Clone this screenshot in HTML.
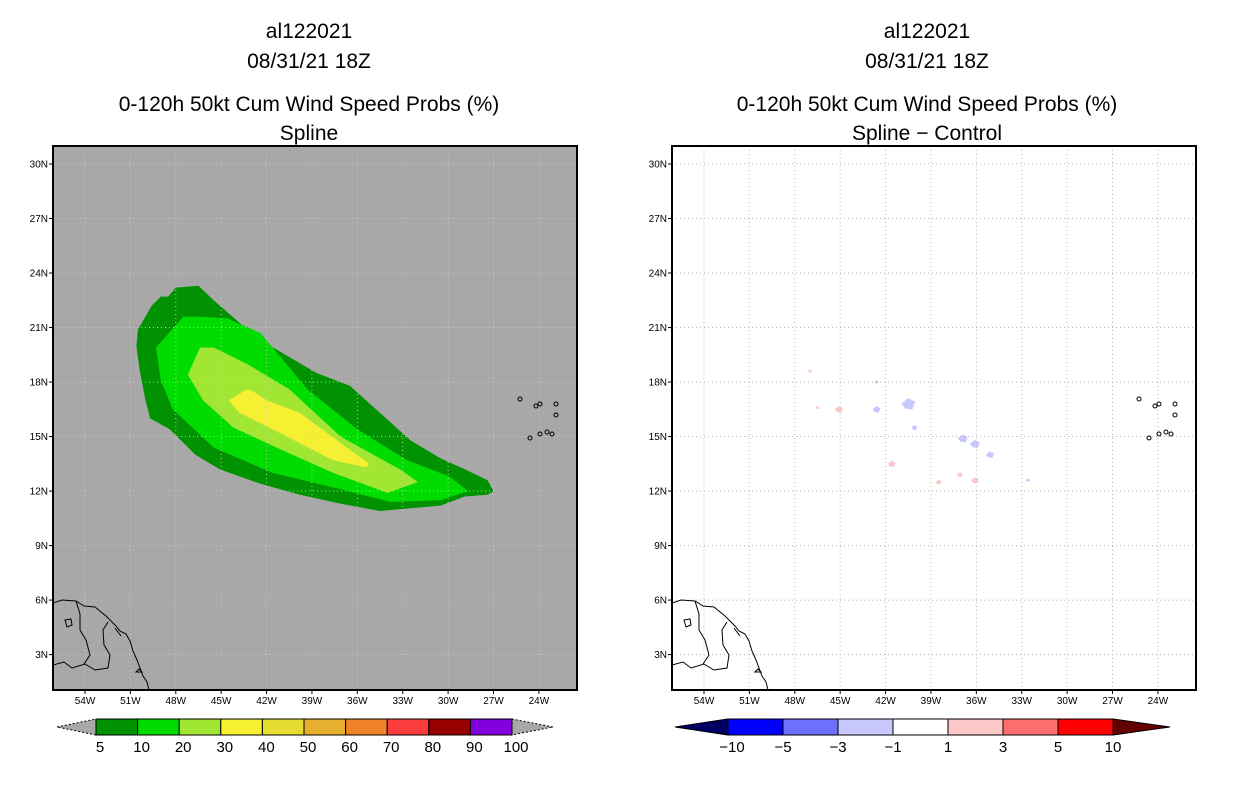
<!DOCTYPE html>
<html><head><meta charset="utf-8">
<style>
html,body{margin:0;padding:0;background:#fff;}
svg{display:block;font-family:"Liberation Sans",sans-serif;}
</style></head>
<body>
<svg id="c" width="1236" height="800" viewBox="0 0 1236 800"></svg>
<script>
// ---- data ----
const latTicks=[30,27,24,21,18,15,12,9,6,3];
const lonTicks=[-54,-51,-48,-45,-42,-39,-36,-33,-30,-27,-24];
const probLevels=['5','10','20','30','40','50','60','70','80','90','100'];
const probColors=['#009200','#00dc00','#a0e632','#f5f032','#e6dc32','#e6af2d','#f08228','#fa3c3c','#960000','#8200dc'];
const diffLevels=['-10','-5','-3','-1','1','3','5','10'];
const diffColors=['#0000ff','#6e6eff','#c8c8ff','#ffffff','#ffc8c8','#ff6e6e','#ff0000'];
const c5Lon=[-49.0,-48.5,-48.0,-46.5,-45.5,-42.6,-38.7,-36.5,-32.5,-30.5,-28.9,-27.4,-27.0,-27.4,-28.9,-30.5,-33.2,-34.5,-35.8,-37.1,-39.8,-42.4,-45.1,-46.7,-48.4,-49.7,-50.0,-50.4,-50.6,-50.5,-50.0,-49.6];
const c5Lat=[22.7,22.7,23.2,23.3,22.5,20.4,18.5,17.8,14.8,13.8,13.2,12.6,12.0,11.8,11.7,11.2,11.0,10.9,11.1,11.3,11.8,12.4,13.2,14.0,15.4,16.0,17.0,18.7,20.0,20.9,21.6,22.2];
const c10Lon=[-47.5,-49.3,-49.0,-48.2,-45.5,-41.6,-37.1,-33.8,-30.5,-28.7,-29.9,-32.7,-36.0,-39.3,-42.4,-44.6,-46.4];
const c10Lat=[21.6,19.9,18.1,16.5,14.4,13.0,12.1,11.4,11.5,12.0,12.8,13.7,15.4,17.6,20.7,21.5,21.6];
const c20Lon=[-46.4,-47.2,-46.2,-44.2,-41.1,-37.6,-34.0,-32.0,-33.2,-37.1,-40.5,-43.3,-45.5];
const c20Lat=[19.9,18.4,17.0,15.5,14.3,13.0,11.9,12.5,13.2,15.0,17.6,19.0,19.9];
const c30Lon=[-43.3,-44.5,-43.8,-41.6,-37.6,-35.4,-35.2,-36.7,-39.8,-42.0,-42.9];
const c30Lat=[17.6,17.0,16.3,15.4,13.7,13.3,13.5,14.4,16.3,17.0,17.5];
const diffLon=[-40.5,-42.6,-42.6,-40.1,-36.9,-36.1,-35.1,-32.6,-47.0,-46.5,-45.1,-41.6,-38.5,-37.1,-36.1];
const diffLat=[16.8,16.5,18.0,15.5,14.9,14.6,14.0,12.6,18.6,16.6,16.5,13.5,12.5,12.9,12.6];
const diffVal=[-2,-2,-2,-2,-2,-2,-2,-2,2,2,2,2,2,2,2];
const diffSize=[7,4,2,3,5,5,4,2,2,2,4,4,3,3,4];

// ---- helpers ----
const NS='http://www.w3.org/2000/svg';
const svg=document.getElementById('c');
function mk(tag,attrs,parent){const e=document.createElementNS(NS,tag);for(const k in attrs)e.setAttribute(k,attrs[k]);(parent||svg).appendChild(e);return e;}
const Y0=164, PXLAT=18.17, PXLON=15.13;
function yOf(lat){return Y0+(30-lat)*PXLAT;}
function xOf(lon,ox){return ox+32+(lon+54)*PXLON;}

function panel(ox,id,isProb,titles,cx){
  const W=524,top=146,bot=690;
  const g=mk('g',{});
  
  
  titles.forEach((t,i)=>{
    const tx=mk('text',{x:cx,y:[38,68,111,140][i],'text-anchor':'middle','font-size':'21','fill':'#000'},g);
    tx.textContent=t;
    
    
  });
  const bg=mk('rect',{x:ox,y:top,width:W,height:bot-top,fill:isProb?'#a8a8a8':'#ffffff'},g);
  
  
  const clip=mk('clipPath',{id:'clip'+id},g);
  mk('rect',{x:ox,y:top,width:W,height:bot-top},clip);
  const inner=mk('g',{'clip-path':'url(#clip'+id+')'},g);
  if(isProb){
    [[c5Lon,c5Lat,0],[c10Lon,c10Lat,1],[c20Lon,c20Lat,2],[c30Lon,c30Lat,3]].forEach(([lo,la,ci])=>{
      const pts=lo.map((v,i)=>xOf(v,ox).toFixed(1)+','+yOf(la[i]).toFixed(1)).join(' ');
      const p=mk('polygon',{points:pts,fill:probColors[ci]},inner);
      
      
    });
  } else {
    diffLon.forEach((lo,i)=>{
      const x=xOf(lo,ox),y=yOf(diffLat[i]),s=diffSize[i];
      const col=diffVal[i]<0?'#c8c8ff':'#ffc8c8';
      const p=mk('polygon',{points:`${x-s},${y} ${x},${y-s*0.8} ${x+s},${y-s*0.3} ${x+s*0.6},${y+s*0.8} ${x-s*0.4},${y+s*0.7}`,fill:col},inner);
      
      
    });
  }
  // grid
  const gc=isProb?'#c8c8c8':'#b4b4b4';
  lonTicks.forEach(lo=>{const x=xOf(lo,ox);const l=mk('line',{x1:x,x2:x,y1:top,y2:bot,stroke:gc,'stroke-width':1,'stroke-dasharray':'1,3'},inner);
    });
  latTicks.forEach(la=>{const y=yOf(la);const l=mk('line',{x1:ox,x2:ox+W,y1:y,y2:y,stroke:gc,'stroke-width':1,'stroke-dasharray':'1,3'},inner);
    });
  // coastlines
  const coast=mk('g',{fill:'none',stroke:'#000','stroke-width':1},inner);
  
  
  const o=ox-53;
  mk('path',{d:`M${o+53},603 L${o+62},600 L${o+76},601 L${o+84},606 L${o+95},607 L${o+106},616 L${o+116},626 L${o+120},631 L${o+126},634 L${o+130},641 L${o+133},651 L${o+137},660 L${o+140},668 L${o+143},676 L${o+147},682 L${o+149},690`},coast);
  mk('path',{d:`M${o+53},665 L${o+64},662 L${o+72},668 L${o+85},664 L${o+95},670 L${o+108},668 L${o+110},655 L${o+104},645 L${o+103},630 L${o+108},622`},coast);
  mk('path',{d:`M${o+76},601 L${o+80},614 L${o+80},630 L${o+86},640 L${o+90},655 L${o+84},664`},coast);
  mk('path',{d:`M${o+65},620 l6,-1 l1,6 l-5,2 z`},coast);
  mk('path',{d:`M${o+115},628 l6,8 M${o+136},672 l3,-3 l3,3 z`},coast);
  // Cape Verde islands
  [[520,399],[536,406],[540,404],[556,404],[556,415],[547,432],[552,434],[540,434],[530,438]].forEach(([x,y])=>{
    mk('circle',{cx:o+x,cy:y,r:2},coast);
  });
  const fr=mk('rect',{x:ox,y:top,width:W,height:bot-top,fill:'none',stroke:'#000','stroke-width':2},g);
  
  
  latTicks.forEach(la=>{const y=yOf(la);
    mk('line',{x1:ox-4,x2:ox,y1:y,y2:y,stroke:'#000'},g);
    const t=mk('text',{x:ox-5,y:y+3.5,'text-anchor':'end','font-size':'10'},g);t.textContent=la+'N';
    });
  lonTicks.forEach(lo=>{const x=xOf(lo,ox);
    mk('line',{x1:x,x2:x,y1:bot,y2:bot+4,stroke:'#000'},g);
    const t=mk('text',{x:x,y:bot+14,'text-anchor':'middle','font-size':'10'},g);t.textContent=(-lo)+'W';
    });
  // colorbar
  const cb=mk('g',{},g);
  
  
  const cy0=719,cy1=735;
  if(isProb){
    const x0=96,bw=41.6;
    mk('polygon',{points:`57,727 ${x0},${cy0} ${x0},${cy1}`,fill:'#a8a8a8',stroke:'#000','stroke-dasharray':'2,2'},cb);
    mk('polygon',{points:`553,727 ${x0+10*bw},${cy0} ${x0+10*bw},${cy1}`,fill:'#a8a8a8',stroke:'#000','stroke-dasharray':'2,2'},cb);
    probColors.forEach((col,i)=>{const r=mk('rect',{x:x0+i*bw,y:cy0,width:bw,height:cy1-cy0,fill:col,stroke:'#000'},cb);
      });
    probLevels.forEach((lv,i)=>{const t=mk('text',{x:x0+i*bw+4,y:752,'text-anchor':'middle','font-size':'15'},cb);t.textContent=lv;});
  } else {
    const x0=728,bw=55;
    mk('polygon',{points:`675,727 ${x0},${cy0} ${x0},${cy1}`,fill:'#000064',stroke:'#000'},cb);
    mk('polygon',{points:`1170,727 ${x0+7*bw},${cy0} ${x0+7*bw},${cy1}`,fill:'#640000',stroke:'#000'},cb);
    diffColors.forEach((col,i)=>{const r=mk('rect',{x:x0+i*bw,y:cy0,width:bw,height:cy1-cy0,fill:col,stroke:'#000'},cb);
      });
    diffLevels.forEach((lv,i)=>{const t=mk('text',{x:x0+i*bw+(i==0?4:0),y:752,'text-anchor':'middle','font-size':'15'},cb);t.textContent=lv.replace('-','\u2212');});
  }
}
panel(53,'left',true,['al122021','08/31/21 18Z','0-120h 50kt Cum Wind Speed Probs (%)','Spline'],309);
panel(672,'right',false,['al122021','08/31/21 18Z','0-120h 50kt Cum Wind Speed Probs (%)','Spline \u2212 Control'],927);
</script>
</body></html>
